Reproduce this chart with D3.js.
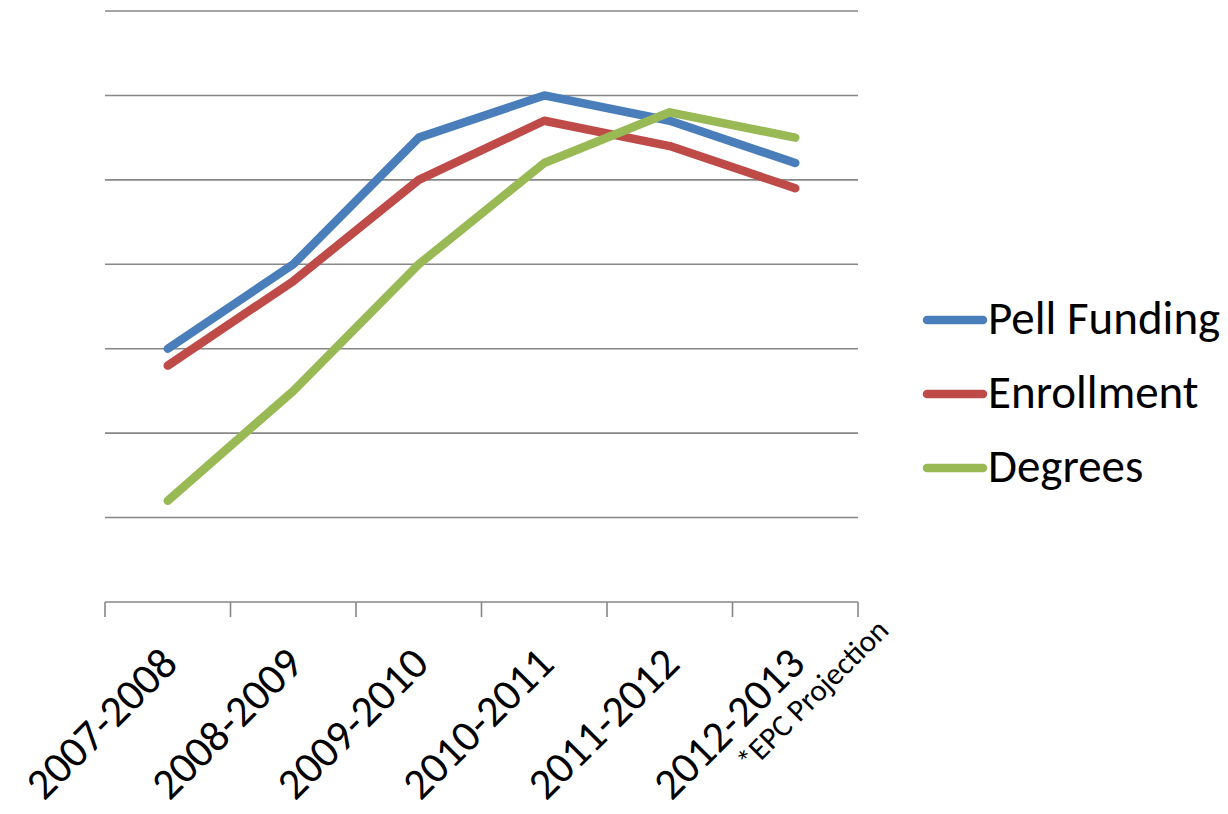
<!DOCTYPE html>
<html>
<head>
<meta charset="utf-8">
<script src="https://cdn.jsdelivr.net/npm/d3@7"></script>
<style>
  html, body { margin: 0; padding: 0; background: #ffffff; }
  svg { display: block; }
  text { font-family: Carlito, Lato, "Open Sans", sans-serif; fill: #000; }
</style>
</head>
<body>
<svg id="chart" width="1228" height="814"></svg>
<script>
// Academic years on the category axis
const years = ["2007-2008", "2008-2009", "2009-2010", "2010-2011", "2011-2012", "2012-2013"];
const projectionNote = "*EPC Projection";

// Relative index values per series (unitless, gridline = 1 unit)
const pellFunding = [3.0, 4.0, 5.5, 6.0, 5.7, 5.2];
const enrollment  = [2.8, 3.8, 5.0, 5.7, 5.4, 4.9];
const degrees     = [1.2, 2.5, 4.0, 5.2, 5.8, 5.5];

const seriesNames  = ["Pell Funding", "Enrollment", "Degrees"];
const seriesColors = ["#4a7ebb", "#be4b48", "#98b954"];
const gridTicks = [1, 2, 3, 4, 5, 6, 7];

const series = [pellFunding, enrollment, degrees].map((values, i) => ({
  name: seriesNames[i],
  color: seriesColors[i],
  values
}));

const svg = d3.select("#chart");
const plot = { left: 105, right: 858, top: 11, bottom: 602 };

const x = d3.scaleBand().domain(years).range([plot.left, plot.right]).padding(0);
const y = d3.scaleLinear().domain([0, 7]).range([plot.bottom, plot.top]);
const cx = d => x(d) + x.bandwidth() / 2;

// Horizontal gridlines
svg.append("g")
  .selectAll("line")
  .data(gridTicks)
  .join("line")
  .attr("x1", plot.left)
  .attr("x2", plot.right)
  .attr("y1", d => y(d))
  .attr("y2", d => y(d))
  .attr("stroke", "#878787")
  .attr("stroke-width", 1.6);

// Category axis: baseline with tick marks at band edges
const axis = svg.append("g").attr("transform", `translate(0,${y(0)})`);
axis.append("line")
  .attr("x1", plot.left).attr("x2", plot.right)
  .attr("y1", 0).attr("y2", 0)
  .attr("stroke", "#878787").attr("stroke-width", 1.6);
const edges = years.map(d => x(d)).concat([plot.right]);
axis.selectAll("line.tick")
  .data(edges)
  .join("line")
  .attr("class", "tick")
  .attr("x1", d => d).attr("x2", d => d)
  .attr("y1", 0).attr("y2", 15)
  .attr("stroke", "#878787").attr("stroke-width", 1.6);

// Rotated category labels
axis.selectAll("text.cat")
  .data(years)
  .join("text")
  .attr("class", "cat")
  .attr("text-anchor", "end")
  .attr("font-size", 44)
  .attr("transform", d => `translate(${cx(d) + 12},${64}) rotate(-45)`)
  .text(d => d);

// Projection footnote under the last label
const last = years[years.length - 1];
axis.append("text")
  .attr("text-anchor", "end")
  .attr("font-size", 31)
  .attr("transform", `translate(${cx(last) + 95},${30}) rotate(-45)`)
  .text(projectionNote);

// Series lines
const line = d3.line()
  .x((v, i) => cx(years[i]))
  .y(v => y(v));

svg.append("g")
  .selectAll("path")
  .data(series)
  .join("path")
  .attr("d", s => line(s.values))
  .attr("fill", "none")
  .attr("stroke", s => s.color)
  .attr("stroke-width", 8.5)
  .attr("stroke-linecap", "round")
  .attr("stroke-linejoin", "round");

// Legend
const legend = svg.append("g").attr("transform", "translate(927,320)");
const item = legend.selectAll("g")
  .data(series)
  .join("g")
  .attr("transform", (d, i) => `translate(0,${i * 74})`);
item.append("line")
  .attr("x1", 0).attr("x2", 56)
  .attr("y1", 0).attr("y2", 0)
  .attr("stroke", d => d.color)
  .attr("stroke-width", 8.5)
  .attr("stroke-linecap", "round");
item.append("text")
  .attr("x", 61)
  .attr("y", 14)
  .attr("font-size", 47)
  .text(d => d.name);
</script>
</body>
</html>
